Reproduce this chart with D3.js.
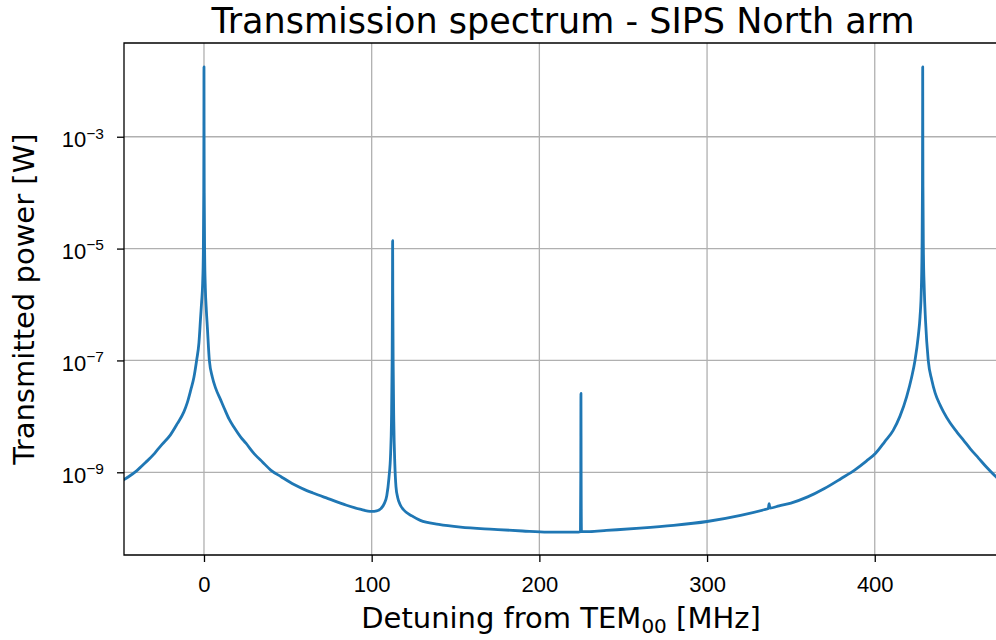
<!DOCTYPE html>
<html>
<head>
<meta charset="utf-8">
<script src="https://cdn.jsdelivr.net/npm/d3@7"></script>
<style>
  body { margin: 0; background: #fff; }
  svg { font-family: "DejaVu Sans", sans-serif; display: block; }
  .grid line { stroke: #b0b0b0; stroke-width: 1.3; }
  .axis path, .axis line { stroke: #000; stroke-width: 1.3; }
  .axis text { font-size: 22px; fill: #000; }
</style>
</head>
<body>
<div id="chart"></div>
<script>
// transmission spectrum (x in MHz, power as log10 of W)
var detuning = [-50, -47.7, -45, -40, -35, -30, -27.8, -25, -20, -15.9, -12, -10, -7.9, -6, -4.4, -3, -2, -1.4,
  -0.8, -0.4, -0.15, -0.05, 0, 0.05, 0.15, 0.4, 0.8, 1.4, 2, 3.2, 5, 7, 10, 12, 15, 18, 21.9, 25, 30, 35, 39.8,
  46, 53.7, 60, 65, 74, 85, 93, 100, 103, 105.5, 107.5, 109, 110.3, 111.3, 111.8, 112.2, 112.4, 112.5, 112.6,
  112.8, 113.2, 113.8, 114.5, 115.5, 117, 119, 124, 129, 140, 153, 173, 190, 205, 215, 222, 224.5, 224.7,
  224.8, 224.9, 225.1, 230, 240, 260, 280, 300, 320, 334, 336.5, 337, 337.5, 343, 350, 360, 370, 380, 388,
  395, 400.5, 406, 411, 415, 419, 422, 424, 426, 427, 427.8, 428.2, 428.45, 428.55, 428.6, 428.65, 428.75,
  429, 429.5, 430.3, 431.9, 434, 436, 439, 441, 445, 449, 453, 457, 462, 467, 472.3, 480];
var powerLog10 = [-9.17, -9.13, -9.08, -8.97, -8.83, -8.68, -8.60, -8.50, -8.33, -8.13, -7.92, -7.76, -7.53,
  -7.30, -7.00, -6.68, -6.22, -5.95, -5.62, -5.10, -4.0, -2.8, -1.75, -2.8, -4.0, -5.1, -5.7, -6.1, -6.4,
  -7.0, -7.3, -7.5, -7.71, -7.85, -8.05, -8.2, -8.37, -8.48, -8.67, -8.82, -8.96, -9.08, -9.22, -9.31, -9.37,
  -9.47, -9.59, -9.66, -9.70, -9.69, -9.65, -9.56, -9.42, -9.1, -8.66, -8.1, -7.0, -5.8, -4.86, -5.8, -7.0,
  -8.1, -8.85, -9.26, -9.45, -9.58, -9.67, -9.78, -9.86, -9.93, -9.98, -10.02, -10.05, -10.07, -10.07,
  -10.07, -10.06, -9.0, -7.59, -9.0, -10.06, -10.06, -10.04, -10.0, -9.95, -9.88, -9.77, -9.67, -9.65,
  -9.56, -9.64, -9.60, -9.55, -9.44, -9.29, -9.11, -8.96, -8.80, -8.66, -8.45, -8.25, -8.0, -7.65, -7.3,
  -7.0, -6.55, -6.22, -5.7, -5.0, -3.9, -2.7, -1.75, -2.7, -3.9, -5.0, -5.7, -6.3, -7.0, -7.35, -7.58,
  -7.8, -7.92, -8.12, -8.28, -8.43, -8.58, -8.75, -8.92, -9.08, -9.25];
var xTicks = [0, 100, 200, 300, 400];
var yTicks = [1e-3, 1e-5, 1e-7, 1e-9];

var width = 996, height = 640;
var margin = { top: 43, left: 124, bottom: 85 };
var plotRight = 998;

var svg = d3.select("#chart").append("svg")
  .attr("width", width)
  .attr("height", height);

var x = d3.scaleLinear().domain([-47.7, 473.5]).range([margin.left, plotRight]);
var y = d3.scaleLog().domain([Math.pow(10, -10.479), Math.pow(10, -1.324)])
  .range([height - margin.bottom, margin.top]);

var plotW = plotRight - margin.left, plotH = height - margin.bottom - margin.top;

svg.append("clipPath").attr("id", "clip")
  .append("rect").attr("x", margin.left).attr("y", margin.top)
  .attr("width", plotW).attr("height", plotH);

// grid
var grid = svg.append("g").attr("class", "grid");
grid.selectAll(".gx").data(xTicks).enter().append("line")
  .attr("x1", function(d){ return x(d); }).attr("x2", function(d){ return x(d); })
  .attr("y1", margin.top).attr("y2", height - margin.bottom);
grid.selectAll(".gy").data(yTicks).enter().append("line")
  .attr("y1", function(d){ return y(d); }).attr("y2", function(d){ return y(d); })
  .attr("x1", margin.left).attr("x2", plotRight);

// the curve
var pts = detuning.map(function(d, i){ return [d, Math.pow(10, powerLog10[i])]; });
var line = d3.line()
  .curve(d3.curveMonotoneX)
  .x(function(d){ return x(d[0]); })
  .y(function(d){ return y(d[1]); });

svg.append("path")
  .datum(pts)
  .attr("clip-path", "url(#clip)")
  .attr("d", line)
  .attr("fill", "none")
  .attr("stroke", "#1f77b4")
  .attr("stroke-width", 2.8)
  .attr("stroke-linejoin", "round")
  .attr("stroke-linecap", "square");

// axes
var xAxis = svg.append("g").attr("class", "axis")
  .attr("transform", "translate(0," + (height - margin.bottom) + ")")
  .call(d3.axisBottom(x).tickValues(xTicks).tickSize(7).tickPadding(14).tickSizeOuter(0));
xAxis.select(".domain").remove();

var yAxis = svg.append("g").attr("class", "axis")
  .attr("transform", "translate(" + margin.left + ",0)")
  .call(d3.axisLeft(y).tickValues(yTicks).tickSize(7).tickPadding(13).tickSizeOuter(0).tickFormat(""));
yAxis.select(".domain").remove();

// superscript labels 10^-n
yAxis.selectAll(".tick text").each(function(d){
  var t = d3.select(this);
  var e = Math.round(Math.log10(d));
  t.attr("dy", "0.45em");
  t.append("tspan").text("10");
  t.append("tspan").attr("dy", "-0.55em").style("font-size", "15.5px").text("\u2212" + Math.abs(e));
});

// spines
svg.append("path")
  .attr("d", "M" + margin.left + "," + margin.top + "H" + plotRight +
    "M" + margin.left + "," + margin.top + "V" + (height - margin.bottom) + "H" + plotRight)
  .attr("fill", "none").attr("stroke", "#000").attr("stroke-width", 1.3)
  .attr("stroke-linecap", "square");

// labels
svg.append("text")
  .attr("x", 563).attr("y", 33)
  .attr("text-anchor", "middle")
  .style("font-size", "35px")
  .text("Transmission spectrum - SIPS North arm");

var xl = svg.append("text")
  .attr("x", 561).attr("y", 628)
  .attr("text-anchor", "middle")
  .style("font-size", "29px");
xl.append("tspan").text("Detuning from TEM");
xl.append("tspan").attr("dy", "0.25em").style("font-size", "20px").text("00");
xl.append("tspan").attr("dy", "-0.18em").text(" [MHz]");

svg.append("text")
  .attr("transform", "translate(34," + (margin.top + plotH / 2) + ") rotate(-90)")
  .attr("text-anchor", "middle")
  .style("font-size", "29px")
  .text("Transmitted power [W]");
</script>
</body>
</html>
